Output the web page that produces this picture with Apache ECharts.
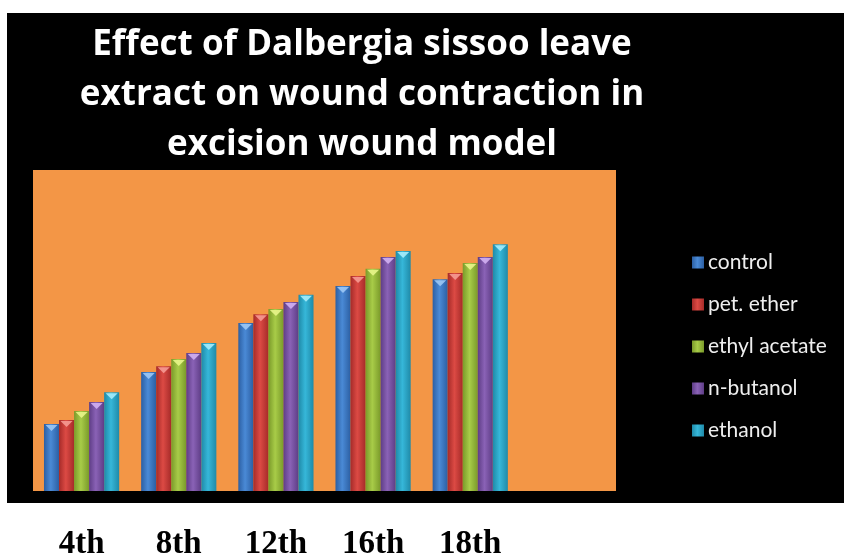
<!DOCTYPE html>
<html>
<head>
<meta charset="utf-8">
<script src="https://cdn.jsdelivr.net/npm/echarts@6/dist/echarts.min.js"></script>
<style>
  html, body { margin: 0; padding: 0; background: #fff; }
  #chart { width: 844px; height: 553px; }
</style>
</head>
<body>
<div id="chart"></div>
<script>
  // day of observation (the 6th slot is empty in the original)
  const days = ['4th', '8th', '12th', '16th', '18th', ''];
  const seriesNames = ['control', 'pet. ether', 'ethyl acetate', 'n-butanol', 'ethanol'];

  // wound contraction
  const control      = [20.9, 37.1, 52.3, 63.9, 66.0];
  const petEther     = [22.1, 38.9, 55.1, 67.0, 67.9];
  const ethylAcetate = [24.9, 41.1, 56.7, 69.2, 71.0];
  const nButanol     = [27.7, 43.0, 58.9, 72.9, 72.9];
  const ethanol      = [30.8, 46.1, 61.1, 74.8, 76.9];
  const values = [control, petEther, ethylAcetate, nButanol, ethanol];

  // bar colours: [edge, middle, cap]
  const palette = [
    ['#2c5fa3', '#4a8ad6', '#9cc8f5'],
    ['#a62b29', '#dc4a44', '#f59a94'],
    ['#7a9a2a', '#a8cc48', '#e8f58a'],
    ['#5e3d86', '#8a62b6', '#d2b0f2'],
    ['#1f8aa8', '#36b7d9', '#a6ecfb']
  ];

  const chart = echarts.init(document.getElementById('chart'));

  const barSeries = values.map((v, i) => ({
    name: seriesNames[i],
    type: 'bar',
    data: v,
    barGap: '0%',
    barCategoryGap: '22.6%',
    itemStyle: {
      color: new echarts.graphic.LinearGradient(0, 0, 1, 0, [
        { offset: 0, color: palette[i][0] },
        { offset: 0.45, color: palette[i][1] },
        { offset: 1, color: palette[i][0] }
      ])
    }
  }));

  // little light chevron on top of each bar
  const capSeries = values.map((v, i) => ({
    name: seriesNames[i],
    type: 'pictorialBar',
    data: v,
    barGap: '0%',
    barCategoryGap: '22.6%',
    symbol: 'triangle',
    symbolRotate: 180,
    symbolSize: ['80%', 6],
    symbolPosition: 'end',
    symbolOffset: [0, 1],
    z: 5,
    itemStyle: { color: palette[i][2], opacity: 0.9 }
  }));

  chart.setOption({
    backgroundColor: '#fff',
    animation: false,
    graphic: [{
      type: 'rect',
      z: -10,
      shape: { x: 7, y: 13, width: 837, height: 490 },
      style: { fill: '#000' }
    }],
    title: {
      text: 'Effect of Dalbergia sissoo leave\nextract on wound contraction in\nexcision wound model',
      left: 362,
      top: 20,
      padding: 0,
      textAlign: 'center',
      textStyle: {
        color: '#fff',
        fontFamily: 'Open Sans',
        fontWeight: 'bold',
        fontSize: 35,
        lineHeight: 50
      }
    },
    legend: {
      data: seriesNames,
      orient: 'vertical',
      left: 692,
      top: 252,
      padding: 0,
      itemWidth: 12,
      itemHeight: 12,
      itemGap: 21,
      icon: 'rect',
      textStyle: {
        color: '#eee',
        fontFamily: 'Lato',
        fontSize: 21,
        lineHeight: 21,
        padding: [0, 0, 0, -1]
      }
    },
    grid: {
      left: 33,
      top: 170,
      width: 583,
      height: 321,
      outerBoundsMode: 'none',
      show: true,
      backgroundColor: '#f39646',
      borderWidth: 0
    },
    xAxis: {
      type: 'category',
      data: days,
      axisLine: { show: false },
      axisTick: { show: false },
      axisLabel: {
        margin: 37,
        color: '#000',
        fontFamily: 'Liberation Serif',
        fontWeight: 'bold',
        fontSize: 33
      }
    },
    yAxis: {
      type: 'value',
      min: 0,
      max: 100,
      show: false,
      splitLine: { show: false }
    },
    series: barSeries.concat(capSeries)
  });
</script>
</body>
</html>
